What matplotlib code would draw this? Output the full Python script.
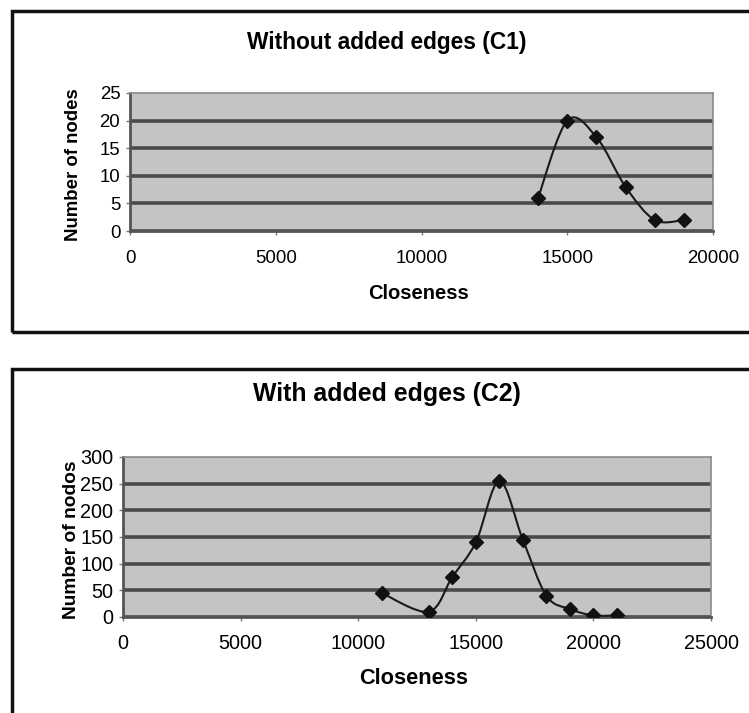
import numpy as np
import matplotlib.pyplot as plt
from matplotlib.path import Path
from matplotlib.patches import PathPatch, Rectangle

# --- data ---
c1_closeness = [14000, 15000, 16000, 17000, 18000, 19000]
c1_nodes = [6, 20, 17, 8, 2, 2]

c2_closeness = [11000, 13000, 14000, 15000, 16000, 17000, 18000, 19000, 20000, 21000]
c2_nodes = [45, 10, 75, 140, 255, 145, 40, 15, 3, 3]

c1_xticks = [0, 5000, 10000, 15000, 20000]
c1_yticks = [0, 5, 10, 15, 20, 25]
c2_xticks = [0, 5000, 10000, 15000, 20000, 25000]
c2_yticks = [0, 50, 100, 150, 200, 250, 300]

plt.rcParams['font.family'] = ['Liberation Sans', 'DejaVu Sans']

W, H = 749, 713


def smooth_path(xs, ys):
    # excel-style smoothed line: cubic bezier through the points
    xs = np.asarray(xs, float)
    ys = np.asarray(ys, float)
    n = len(xs)
    verts = [(xs[0], ys[0])]
    codes = [Path.MOVETO]
    for i in range(n - 1):
        p0 = np.array([xs[max(i - 1, 0)], ys[max(i - 1, 0)]])
        p1 = np.array([xs[i], ys[i]])
        p2 = np.array([xs[i + 1], ys[i + 1]])
        p3 = np.array([xs[min(i + 2, n - 1)], ys[min(i + 2, n - 1)]])
        c1 = p1 + (p2 - p0) / 6.0
        c2 = p2 - (p3 - p1) / 6.0
        verts += [tuple(c1), tuple(c2), tuple(p2)]
        codes += [Path.CURVE4] * 3
    return Path(verts, codes)


def panel(px, xs, ys, xticks, yticks, title, ylabel, title_y, xlabel_y,
          ylabel_x, fs_title, fs_label, fs_ylabel, fs_tick, xpad):
    # px = (left, top, right, bottom) in pixels
    l, t, r, b = px
    ax = fig.add_axes([l / W, 1 - b / H, (r - l) / W, (b - t) / H])
    ax.set_facecolor('#c4c4c4')
    ax.set_xlim(xticks[0], xticks[-1])
    ax.set_ylim(yticks[0], yticks[-1])
    for yv in yticks[:-1]:
        ax.axhline(yv, color='#4a4a4a', lw=2.6, zorder=1)
    ax.add_patch(PathPatch(smooth_path(xs, ys), fill=False, color='#1a1a1a',
                           lw=1.5, zorder=3))
    ax.plot(xs, ys, ls='none', marker='D', ms=7, color='#111111', zorder=4)
    ax.set_xticks(xticks)
    ax.set_yticks(yticks)
    ax.tick_params(axis='both', direction='out', length=3, width=1,
                   color='#777777', labelsize=fs_tick)
    ax.tick_params(axis='x', pad=xpad)
    ax.tick_params(axis='y', pad=4)
    for s in ax.spines.values():
        s.set_color('#8a8a8a')
        s.set_linewidth(1.2)
    ax.spines['left'].set_color('#555555')
    ax.spines['left'].set_linewidth(2)
    ax.spines['bottom'].set_color('#555555')
    ax.spines['bottom'].set_linewidth(2)
    fig.text(ylabel_x / W, 1 - ((t + b) / 2 + 3) / H, ylabel, rotation=90,
             fontsize=fs_ylabel, fontweight='bold', ha='center', va='center')
    fig.text(387 / W, 1 - title_y / H, title, fontsize=fs_title,
             fontweight='bold', ha='center', va='center')
    fig.text(((l + r) / 2 - 3) / W, 1 - xlabel_y / H, 'Closeness',
             fontsize=fs_label, fontweight='bold', ha='center', va='center')
    return ax


fig = plt.figure(figsize=(W / 100, H / 100), dpi=100)

# panel frames
fig.add_artist(Rectangle((12 / W, 1 - 332 / H), 1.0, (332 - 11) / H,
                         transform=fig.transFigure, fill=False,
                         edgecolor='#111111', lw=2.5))
fig.add_artist(Rectangle((12 / W, -0.05), 1.0, 0.05 + (H - 369) / H,
                         transform=fig.transFigure, fill=False,
                         edgecolor='#111111', lw=2.5))

panel((130, 93, 713, 231), c1_closeness, c1_nodes, c1_xticks, c1_yticks,
      'Without added edges (C1)', 'Number of nodes',
      43, 294, 73, 16.4, 14.5, 13.4, 13.4, 11)

panel((123, 457, 711, 617), c2_closeness, c2_nodes, c2_xticks, c2_yticks,
      'With added edges (C2)', 'Number of nodos',
      394, 679, 72, 17.9, 15.7, 13.8, 14.3, 9)

fig.savefig('out.png', dpi=100, facecolor='white')
